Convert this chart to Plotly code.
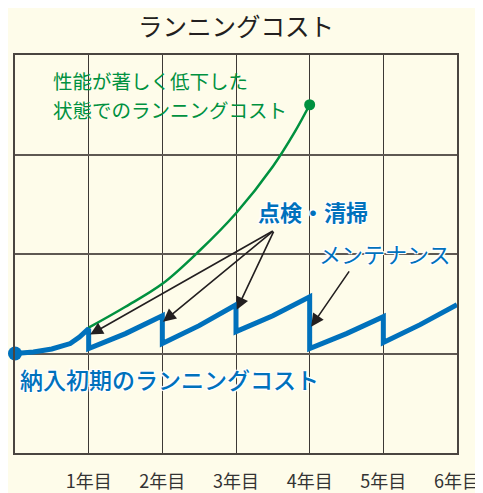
import plotly.graph_objects as go

# ---- data (years on x, relative cost on y) ----
blue_x = [0, 0.25, 0.5, 0.75, 0.875, 1, 1, 1.5, 2, 2, 2.5, 3, 3, 3.5, 4, 4, 4.5, 5, 5, 5.5, 6]
blue_y = [1.0, 1.015, 1.045, 1.10, 1.165, 1.25, 1.05, 1.20, 1.38, 1.10, 1.28, 1.49, 1.22, 1.38, 1.57, 1.05, 1.20, 1.37, 1.11, 1.29, 1.49]

green_x = [1, 1.5, 2, 2.5, 3, 3.5, 3.8, 4]
green_y = [1.26, 1.47, 1.70, 2.03, 2.41, 2.88, 3.23, 3.50]

tick_vals = [1, 2, 3, 4, 5, 6]
tick_text = ["1年目", "2年目", "3年目", "4年目", "5年目", "6年目"]

green_label_lines = ["性能が著しく低下した", "状態でのランニングコスト"]

# arrows: label anchor -> tip on the blue line
insp_from = (3.52, 2.24)
insp_tips_x = [1.02, 2.01, 3.01]
insp_tips_y = [1.19, 1.32, 1.44]
maint_from = (4.55, 1.84)
maint_tip = (4.02, 1.27)

BLUE = "#0071BC"
GREEN = "#00913F"
BG = "#FEFCEA"
FONT = "Noto Sans CJK JP"
HALO = "1px 1px 0 #fff, -1px -1px 0 #fff, 1px -1px 0 #fff, -1px 1px 0 #fff, 0 0 3px #fff"

fig = go.Figure()
fig.add_trace(go.Scatter(x=green_x, y=green_y, mode="lines", line=dict(color=GREEN, width=2.5, shape="spline"),
                         hoverinfo="skip", showlegend=False))
fig.add_trace(go.Scatter(x=[green_x[-1]], y=[green_y[-1]], mode="markers", cliponaxis=False,
                         marker=dict(color=GREEN, size=11), showlegend=False))
fig.add_trace(go.Scatter(x=blue_x, y=blue_y, mode="lines", line=dict(color=BLUE, width=5),
                         showlegend=False))
fig.add_trace(go.Scatter(x=[blue_x[0]], y=[blue_y[0]], mode="markers", cliponaxis=False,
                         marker=dict(color=BLUE, size=14), showlegend=False))

arrow_style = dict(showarrow=True, arrowhead=2, arrowsize=1.6, arrowwidth=1.6, arrowcolor="#231F20",
                   axref="x", ayref="y", xref="x", yref="y", text="", standoff=0, startstandoff=0)
for tx, ty in zip(insp_tips_x, insp_tips_y):
    fig.add_annotation(x=tx, y=ty, ax=insp_from[0], ay=insp_from[1], **arrow_style)
fig.add_annotation(x=maint_tip[0], y=maint_tip[1], ax=maint_from[0], ay=maint_from[1], **arrow_style)

# labels
fig.add_annotation(text="ランニングコスト", xref="paper", yref="paper", x=0.5, y=1.0, yshift=30,
                   yanchor="middle", showarrow=False, font=dict(family=FONT, size=24.5, color="#231F20"))
for line_text, ly in zip(green_label_lines, [3.745, 3.455]):
    fig.add_annotation(text=line_text, xref="x", yref="y", x=0.5, y=ly, xanchor="left",
                       yanchor="middle", showarrow=False, borderpad=0,
                       font=dict(family=FONT, size=19.5, color=GREEN))
fig.add_annotation(text="点検・清掃", xref="x", yref="y", x=4.05, y=2.43, showarrow=False,
                   font=dict(family=FONT, size=22, color=BLUE, weight="bold", shadow=HALO))
fig.add_annotation(text="メンテナンス", xref="x", yref="y", x=5.02, y=2.01, showarrow=False,
                   font=dict(family=FONT, size=22, color=BLUE, shadow=HALO))
fig.add_annotation(text="納入初期のランニングコスト", xref="x", yref="y", x=0.04, y=0.74,
                   xanchor="left", showarrow=False,
                   font=dict(family=FONT, size=23, color=BLUE, weight=500, shadow=HALO))

fig.update_xaxes(range=[0, 6], tickvals=tick_vals, ticktext=tick_text, showgrid=True,
                 gridcolor="#3d3935", gridwidth=1, showline=True, mirror=True, linecolor="#4a4540",
                 linewidth=2, zeroline=False, ticks="", ticklabelstandoff=11, automargin=False,
                 tickfont=dict(family=FONT, size=18, color="#333333"), fixedrange=True)
fig.update_yaxes(range=[0, 4], tickvals=[1, 2, 3], showticklabels=False, showgrid=True,
                 gridcolor="#5e5852", gridwidth=1.5, showline=True, mirror=True, linecolor="#4a4540",
                 linewidth=2, zeroline=False, ticks="", automargin=False, fixedrange=True)

# the page body adds an 8px offset, so the figure is 8px smaller and shifted margins compensate
fig.update_layout(width=475, height=485, margin=dict(l=7, r=26, t=47, b=40, autoexpand=False),
                  paper_bgcolor=BG, plot_bgcolor=BG, showlegend=False)

fig.write_html("out.html")
